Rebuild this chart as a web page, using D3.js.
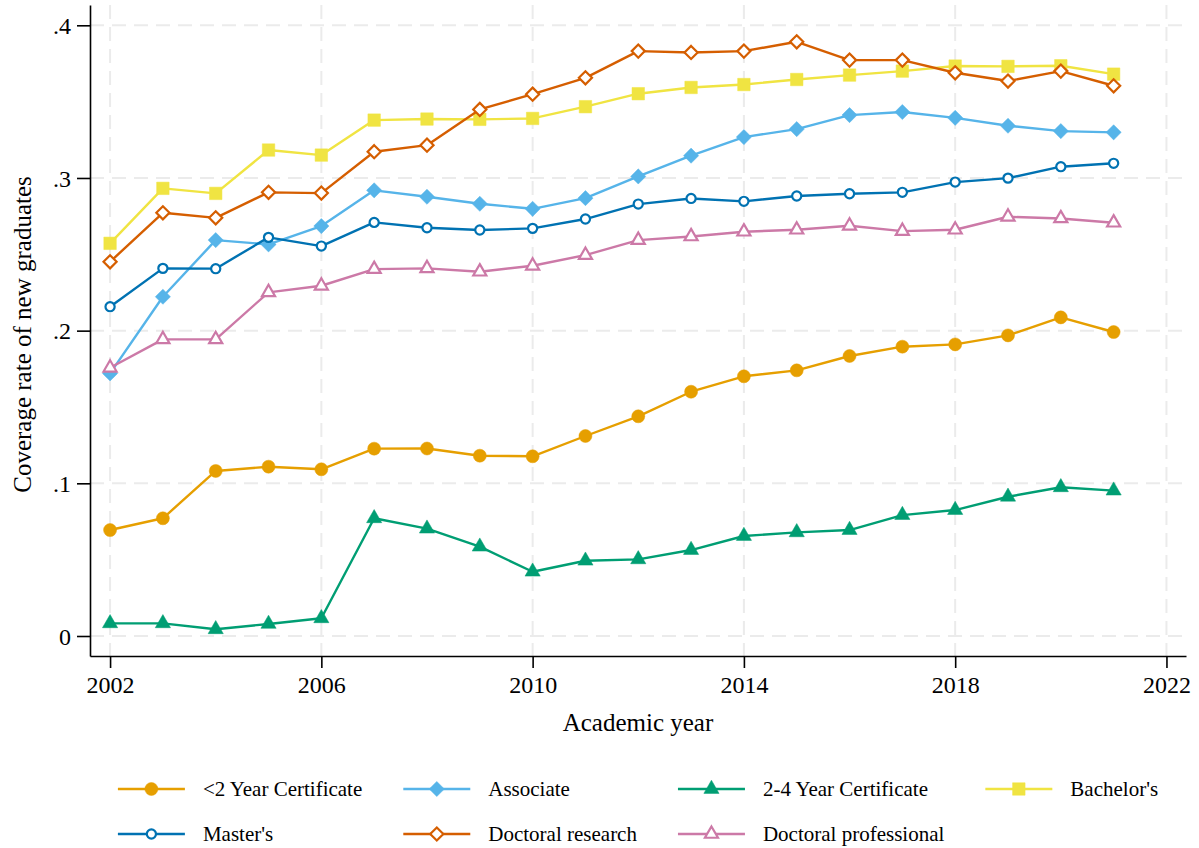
<!DOCTYPE html>
<html>
<head>
<meta charset="utf-8">
<script src="https://cdn.jsdelivr.net/npm/d3@7"></script>
<style>
  html, body { margin: 0; padding: 0; background: #ffffff; }
  svg { display: block; font-family: "Liberation Serif", "Times New Roman", serif; }
</style>
</head>
<body>
<svg id="chart" width="1199" height="848"></svg>
<script>
// Academic years on the x axis
const years = [2002, 2003, 2004, 2005, 2006, 2007, 2008, 2009, 2010, 2011,
               2012, 2013, 2014, 2015, 2016, 2017, 2018, 2019, 2020, 2021];

// Coverage rate of new graduates, by award level
const lt2Cert     = [0.0694, 0.0771, 0.1081, 0.1109, 0.1092, 0.1227, 0.1228, 0.1181, 0.1177, 0.1310,
                     0.1439, 0.1600, 0.1701, 0.1740, 0.1834, 0.1895, 0.1910, 0.1969, 0.2087, 0.1991];
const associate   = [0.1720, 0.2222, 0.2593, 0.2565, 0.2685, 0.2919, 0.2877, 0.2831, 0.2798, 0.2868,
                     0.3010, 0.3146, 0.3268, 0.3320, 0.3412, 0.3432, 0.3394, 0.3342, 0.3307, 0.3299];
const cert2to4    = [0.0083, 0.0083, 0.0044, 0.0079, 0.0116, 0.0771, 0.0703, 0.0585, 0.0421, 0.0493,
                     0.0502, 0.0563, 0.0655, 0.0679, 0.0694, 0.0792, 0.0825, 0.0912, 0.0974, 0.0952];
const bachelors   = [0.2572, 0.2932, 0.2899, 0.3183, 0.3150, 0.3379, 0.3386, 0.3384, 0.3390, 0.3467,
                     0.3552, 0.3593, 0.3612, 0.3645, 0.3674, 0.3700, 0.3733, 0.3731, 0.3735, 0.3680];
const masters     = [0.2157, 0.2408, 0.2406, 0.2611, 0.2554, 0.2709, 0.2674, 0.2659, 0.2670, 0.2731,
                     0.2829, 0.2866, 0.2847, 0.2882, 0.2897, 0.2906, 0.2973, 0.2999, 0.3074, 0.3096];
const docResearch = [0.2451, 0.2772, 0.2739, 0.2906, 0.2901, 0.3172, 0.3215, 0.3449, 0.3549, 0.3656,
                     0.3831, 0.3822, 0.3831, 0.3892, 0.3772, 0.3772, 0.3689, 0.3635, 0.3700, 0.3604];
const docProf     = [0.1757, 0.1943, 0.1943, 0.2251, 0.2294, 0.2403, 0.2408, 0.2386, 0.2425, 0.2495,
                     0.2593, 0.2617, 0.2648, 0.2661, 0.2687, 0.2652, 0.2661, 0.2746, 0.2735, 0.2707];

// Series names, in legend order
const seriesNames = ["<2 Year Certificate", "Associate", "2-4 Year Certificate", "Bachelor's",
                     "Master's", "Doctoral research", "Doctoral professional"];

// Axis ticks
const xTicks = [2002, 2006, 2010, 2014, 2018, 2022];
const yTicks = [0, 0.1, 0.2, 0.3, 0.4];
const yTickLabels = ["0", ".1", ".2", ".3", ".4"];

const xTitle = "Academic year";
const yTitle = "Coverage rate of new graduates";

// Marker styles per series
const styles = [
  { color: "#E69F00", shape: "circle",   fill: true,  size: 133 },
  { color: "#56B4E9", shape: "diamond",  fill: true,  size: 115 },
  { color: "#009E73", shape: "triangle", fill: true,  size: 100 },
  { color: "#F0E442", shape: "square",   fill: true,  size: 156 },
  { color: "#0072B2", shape: "circle",   fill: false, size: 66 },
  { color: "#D55E00", shape: "diamond",  fill: false, size: 86 },
  { color: "#CC79A7", shape: "triangle", fill: false, size: 74 }
];

const seriesValues = [lt2Cert, associate, cert2to4, bachelors, masters, docResearch, docProf];
const series = seriesNames.map((name, i) => ({
  name,
  style: styles[i],
  points: years.map((yr, j) => ({ year: yr, value: seriesValues[i][j] }))
}));

const svg = d3.select("#chart");

// Plot region
const plot = { left: 90, right: 1186, top: 5, bottom: 656 };

const x = d3.scaleLinear().domain([2001.62, 2022.37]).range([plot.left, plot.right]);
const y = d3.scaleLinear().domain([-0.0131, 0.4133]).range([plot.bottom, plot.top]);

// Gridlines
const gridColor = "#ebebeb";
const grid = svg.append("g").attr("class", "grid");
grid.selectAll("line.h").data(yTicks).enter().append("line")
  .attr("x1", plot.left).attr("x2", plot.right)
  .attr("y1", d => y(d)).attr("y2", d => y(d))
  .attr("stroke", gridColor).attr("stroke-width", 2).attr("stroke-dasharray", "14,8");
grid.selectAll("line.v").data(xTicks).enter().append("line")
  .attr("x1", d => x(d)).attr("x2", d => x(d))
  .attr("y1", plot.top).attr("y2", plot.bottom)
  .attr("stroke", gridColor).attr("stroke-width", 2).attr("stroke-dasharray", "14,8");

// Axes
const xAxis = d3.axisBottom(x).tickValues(xTicks).tickFormat(d3.format("d"))
  .tickSizeInner(12).tickSizeOuter(0).tickPadding(8);
const yAxis = d3.axisLeft(y).tickValues(yTicks).tickFormat((d, i) => yTickLabels[i])
  .tickSizeInner(13).tickSizeOuter(0).tickPadding(6);

const gx = svg.append("g").attr("transform", `translate(0,${plot.bottom})`).call(xAxis);
const gy = svg.append("g").attr("transform", `translate(${plot.left},0)`).call(yAxis);
[gx, gy].forEach(g => {
  g.select(".domain").attr("stroke", "#000").attr("stroke-width", 1.6);
  g.selectAll(".tick line").attr("stroke", "#000").attr("stroke-width", 1.6);
  g.selectAll(".tick text").attr("fill", "#000")
    .style("font-family", "'Liberation Serif', 'Times New Roman', serif")
    .style("font-size", "24px");
});
gy.selectAll(".tick text").attr("dy", "0.34em");

// Axis titles
svg.append("text")
  .attr("x", (plot.left + plot.right) / 2).attr("y", 731)
  .attr("text-anchor", "middle").attr("font-size", 25).attr("fill", "#000")
  .text(xTitle);
svg.append("text")
  .attr("transform", `translate(31,${(plot.top + plot.bottom) / 2 + 4}) rotate(-90)`)
  .attr("text-anchor", "middle").attr("font-size", 25).attr("fill", "#000")
  .text(yTitle);

// Marker path generator
function markerPath(shape, size) {
  if (shape === "circle") return d3.symbol(d3.symbolCircle, size)();
  if (shape === "square") return d3.symbol(d3.symbolSquare, size)();
  if (shape === "triangle") return d3.symbol(d3.symbolTriangle, size)();
  // diamond: a square turned 45 degrees
  const h = Math.sqrt(size * 2) / 2;
  return `M0,${-h}L${h},0L0,${h}L${-h},0Z`;
}

function drawMarker(sel, st) {
  sel.append("path")
    .attr("d", markerPath(st.shape, st.size))
    .attr("fill", st.fill ? st.color : "#ffffff")
    .attr("stroke", st.color)
    .attr("stroke-width", st.fill ? 0.5 : 2.2);
}

// Lines and markers
const line = d3.line().x(d => x(d.year)).y(d => y(d.value));
const layer = svg.append("g");
series.forEach(s => {
  const g = layer.append("g");
  g.append("path").datum(s.points)
    .attr("d", line).attr("fill", "none")
    .attr("stroke", s.style.color).attr("stroke-width", 2.4)
    .attr("stroke-linejoin", "round");
  g.selectAll("g.pt").data(s.points).enter().append("g")
    .attr("transform", d => `translate(${x(d.year)},${y(d.value)})`)
    .each(function () { drawMarker(d3.select(this), s.style); });
});

// Legend: 4 columns, 2 rows, centred under the plot
const legendFont = 21;
const sampleLen = 67, sampleGap = 18, colGap = 41;
const rowY = [789, 834];
const nCols = 4;
const legend = svg.append("g").attr("font-size", legendFont).attr("fill", "#000");

// measure label widths to size each column
const measure = legend.append("text").attr("visibility", "hidden");
const widths = seriesNames.map(n => { measure.text(n); return measure.node().getComputedTextLength(); });
measure.remove();
const colWidths = d3.range(nCols).map(c =>
  d3.max(seriesNames.map((n, i) => i % nCols === c ? widths[i] : 0)));
const colSpans = colWidths.map(w => sampleLen + sampleGap + w);
const totalW = d3.sum(colSpans) + colGap * (nCols - 1);
let startX = (plot.left + plot.right) / 2 - totalW / 2;
const colX = [];
colSpans.forEach(w => { colX.push(startX); startX += w + colGap; });

series.forEach((s, i) => {
  const cx = colX[i % nCols], cy = rowY[Math.floor(i / nCols)];
  const g = legend.append("g");
  g.append("line").attr("x1", cx).attr("x2", cx + sampleLen)
    .attr("y1", cy).attr("y2", cy)
    .attr("stroke", s.style.color).attr("stroke-width", 2.4);
  const m = g.append("g").attr("transform", `translate(${cx + sampleLen / 2},${cy})`);
  drawMarker(m, s.style);
  g.append("text").attr("x", cx + sampleLen + sampleGap).attr("y", cy).attr("dy", "0.33em")
    .attr("fill", "#000").text(s.name);
});
</script>
</body>
</html>
